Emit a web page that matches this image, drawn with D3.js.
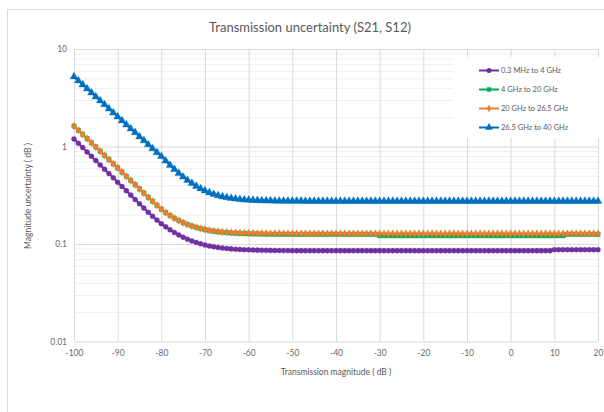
<!DOCTYPE html>
<meta charset="utf-8">
<style>
    body { margin: 0; background: #fff; }
    text { font-family: Lato, "Open Sans", sans-serif; fill: #595959; }
    .grid line { stroke: #d9d9d9; stroke-width: 1; }
    .grid.minor line { stroke: #efefef; }
    .grid .domain { display: none; }
    .axis .domain { display: none; }
    .axis text { font-size: 8.5px; fill: #6a6a6a; }
</style>
<body>
<svg id="chart"></svg>
<script src="https://d3js.org/d3.v7.min.js"></script>
<script>
    // x values: transmission magnitude in dB, one point per dB
    var magnitude = d3.range(-100, 21, 1);

    var xTicks = [-100, -90, -80, -70, -60, -50, -40, -30, -20, -10, 0, 10, 20];
    var yTicks = [0.01, 0.1, 1, 10];
    var yTickLabels = ["0.01", "0.1", "1", "10"];

    // 0.3 MHz to 4 GHz
    var band1 = [
        1.194, 1.078, 0.974, 0.879, 0.794, 0.717, 0.647, 0.585, 0.528, 0.477,
        0.4305, 0.389, 0.351, 0.317, 0.286, 0.2585, 0.2334, 0.2113, 0.1923, 0.1758,
        0.1614, 0.1499, 0.1399, 0.1313, 0.1238, 0.1175, 0.1121, 0.1075, 0.1037, 0.1004,
        0.0978, 0.0955, 0.0937, 0.0922, 0.0909, 0.0899, 0.0891, 0.0884, 0.0879, 0.0874,
        0.0871, 0.0868, 0.0865, 0.0863, 0.0861, 0.0860, 0.0859, 0.0858, 0.0857, 0.0856,
        0.0855, 0.0855, 0.0855, 0.0855, 0.0855, 0.0855, 0.0855, 0.0855, 0.0855, 0.0855,
        0.0855, 0.0855, 0.0855, 0.0855, 0.0855, 0.0855, 0.0855, 0.0855, 0.0855, 0.0855,
        0.0855, 0.0855, 0.0855, 0.0855, 0.0855, 0.0855, 0.0855, 0.0855, 0.0855, 0.0855,
        0.0855, 0.0855, 0.0855, 0.0855, 0.0855, 0.0855, 0.0855, 0.0855, 0.0855, 0.0855,
        0.0855, 0.0855, 0.0855, 0.0855, 0.0855, 0.0855, 0.0855, 0.0855, 0.0855, 0.0855,
        0.0855, 0.0855, 0.0855, 0.0855, 0.0855, 0.0855, 0.0855, 0.0855, 0.0855, 0.0855,
        0.0875, 0.0875, 0.0875, 0.0875, 0.0875, 0.0875, 0.0875, 0.0875, 0.0875, 0.0875,
        0.0875
    ];

    // 4 GHz to 20 GHz
    var band2 = [
        1.622, 1.469, 1.330, 1.205, 1.091, 0.989, 0.895, 0.811, 0.735, 0.665,
        0.603, 0.546, 0.494, 0.448, 0.406, 0.367, 0.333, 0.301, 0.274, 0.249,
        0.228, 0.210, 0.196, 0.184, 0.174, 0.1656, 0.1586, 0.1528, 0.1481, 0.1442,
        0.1400, 0.1372, 0.1350, 0.1333, 0.1318, 0.1307, 0.1297, 0.1289, 0.1283, 0.1278,
        0.1274, 0.1270, 0.1267, 0.1265, 0.1263, 0.1261, 0.1260, 0.1259, 0.1258, 0.1258,
        0.1258, 0.1258, 0.1258, 0.1258, 0.1258, 0.1258, 0.1258, 0.1258, 0.1258, 0.1258,
        0.1258, 0.1258, 0.1258, 0.1258, 0.1258, 0.1258, 0.1258, 0.1258, 0.1258, 0.1258,
        0.1215, 0.1215, 0.1215, 0.1215, 0.1215, 0.1215, 0.1215, 0.1215, 0.1215, 0.1215,
        0.1215, 0.1215, 0.1215, 0.1215, 0.1215, 0.1215, 0.1215, 0.1215, 0.1215, 0.1215,
        0.1215, 0.1215, 0.1215, 0.1215, 0.1215, 0.1215, 0.1215, 0.1215, 0.1215, 0.1215,
        0.1215, 0.1215, 0.1215, 0.1215, 0.1215, 0.1215, 0.1215, 0.1215, 0.1215, 0.1215,
        0.1215, 0.1215, 0.1215, 0.1258, 0.1258, 0.1258, 0.1258, 0.1258, 0.1258, 0.1258,
        0.1258
    ];

    // 20 GHz to 26.5 GHz
    var band3 = [
        1.622, 1.469, 1.330, 1.205, 1.091, 0.989, 0.895, 0.811, 0.735, 0.665,
        0.603, 0.546, 0.494, 0.448, 0.406, 0.367, 0.333, 0.301, 0.274, 0.249,
        0.228, 0.210, 0.196, 0.184, 0.174, 0.1656, 0.1586, 0.1528, 0.1481, 0.1442,
        0.1410, 0.1384, 0.1363, 0.1347, 0.1333, 0.1323, 0.1314, 0.1307, 0.1302, 0.1297,
        0.1294, 0.1291, 0.1289, 0.1287, 0.1286, 0.1285, 0.1284, 0.1283, 0.1282, 0.1281,
        0.128, 0.128, 0.128, 0.128, 0.128, 0.128, 0.128, 0.128, 0.128, 0.128,
        0.128, 0.128, 0.128, 0.128, 0.128, 0.128, 0.128, 0.128, 0.128, 0.128,
        0.128, 0.128, 0.128, 0.128, 0.128, 0.128, 0.128, 0.128, 0.128, 0.128,
        0.128, 0.128, 0.128, 0.128, 0.128, 0.128, 0.128, 0.128, 0.128, 0.128,
        0.128, 0.128, 0.128, 0.128, 0.128, 0.128, 0.128, 0.128, 0.128, 0.128,
        0.128, 0.128, 0.128, 0.128, 0.128, 0.128, 0.128, 0.128, 0.128, 0.128,
        0.128, 0.128, 0.128, 0.128, 0.128, 0.128, 0.128, 0.128, 0.128, 0.128,
        0.128
    ];

    // 26.5 GHz to 40 GHz
    var band4 = [
        5.20, 4.73, 4.31, 3.92, 3.56, 3.24, 2.95, 2.69, 2.44, 2.22,
        2.02, 1.84, 1.67, 1.52, 1.39, 1.26, 1.15, 1.045, 0.951, 0.867,
        0.792, 0.712, 0.643, 0.583, 0.531, 0.488, 0.450, 0.419, 0.392, 0.3696,
        0.3513, 0.3363, 0.3240, 0.3140, 0.3060, 0.2995, 0.2943, 0.2903, 0.2870, 0.2845,
        0.2824, 0.2808, 0.2796, 0.2786, 0.2778, 0.2772, 0.2767, 0.2763, 0.2760, 0.2758,
        0.2757, 0.2756, 0.2755, 0.275, 0.275, 0.275, 0.275, 0.275, 0.275, 0.275,
        0.275, 0.275, 0.275, 0.275, 0.275, 0.275, 0.275, 0.275, 0.275, 0.275,
        0.275, 0.275, 0.275, 0.275, 0.275, 0.275, 0.275, 0.275, 0.275, 0.275,
        0.275, 0.275, 0.275, 0.275, 0.275, 0.275, 0.275, 0.275, 0.275, 0.275,
        0.275, 0.275, 0.275, 0.275, 0.275, 0.275, 0.275, 0.275, 0.275, 0.275,
        0.275, 0.275, 0.275, 0.275, 0.275, 0.275, 0.275, 0.275, 0.275, 0.275,
        0.275, 0.275, 0.275, 0.275, 0.275, 0.275, 0.275, 0.275, 0.275, 0.275,
        0.275
    ];

    var seriesNames = ["0.3 MHz to 4 GHz", "4 GHz to 20 GHz", "20 GHz to 26.5 GHz", "26.5 GHz to 40 GHz"];
    var seriesColors = ["#7030a0", "#00b050", "#ed7d31", "#0070c0"];
    var seriesSymbols = [d3.symbolCircle, d3.symbolSquare, d3.symbolDiamond, d3.symbolTriangle];
    var seriesSizes = [20, 20, 17, 26];
    var seriesValues = [band1, band2, band3, band4];

    var width = 604, height = 412;

    var svg = d3.select("#chart")
        .attr("width", width)
        .attr("height", height);

    // chart area border
    svg.append("rect")
        .attr("x", 7.5).attr("y", 9.5)
        .attr("width", 605).attr("height", 420)
        .attr("fill", "#fff")
        .attr("stroke", "#d9d9d9");

    svg.append("text")
        .attr("x", 310).attr("y", 32)
        .attr("text-anchor", "middle")
        .style("font-size", "13px")
        .text("Transmission uncertainty (S21, S12)");

    var x = d3.scaleLinear().domain([-100, 20]).range([74, 598]);
    var y = d3.scaleLog().domain([0.01, 10]).range([341.5, 49]);

    // minor horizontal gridlines
    var minorTicks = y.ticks().filter(function (v) { return yTicks.indexOf(v) < 0; });
    svg.append("g")
        .attr("class", "grid minor")
        .attr("transform", "translate(74,0)")
        .call(d3.axisLeft(y).tickValues(minorTicks).tickSize(-524).tickFormat(""));

    svg.append("g")
        .attr("class", "grid")
        .attr("transform", "translate(74,0)")
        .call(d3.axisLeft(y).tickValues(yTicks).tickSize(-524).tickFormat(""));

    svg.append("g")
        .attr("class", "grid")
        .attr("transform", "translate(0,341.5)")
        .call(d3.axisBottom(x).tickValues(xTicks).tickSize(-292.5).tickFormat(""));

    // axis labels
    svg.append("g")
        .attr("class", "axis")
        .attr("transform", "translate(67,0)")
        .call(d3.axisLeft(y).tickValues(yTicks).tickSize(0).tickPadding(0)
            .tickFormat(function (d, i) { return yTickLabels[i]; }));

    svg.append("g")
        .attr("class", "axis")
        .attr("transform", "translate(0,346)")
        .call(d3.axisBottom(x).tickValues(xTicks).tickSize(0).tickPadding(4)
            .tickFormat(function (d) { return String(d); }));

    svg.append("text")
        .attr("x", 336).attr("y", 375)
        .attr("text-anchor", "middle")
        .style("font-size", "8.5px")
        .text("Transmission magnitude ( dB )");

    svg.append("text")
        .attr("transform", "translate(31,196) rotate(-90)")
        .attr("text-anchor", "middle")
        .style("font-size", "8.5px")
        .text("Magnitude uncertainty ( dB )");

    var line = d3.line()
        .x(function (d) { return x(d[0]); })
        .y(function (d) { return y(d[1]); });

    seriesValues.forEach(function (vals, s) {
        var pts = magnitude.map(function (m, i) { return [m, vals[i]]; });
        var g = svg.append("g");
        g.append("path")
            .datum(pts)
            .attr("d", line)
            .attr("fill", "none")
            .attr("stroke", seriesColors[s])
            .attr("stroke-width", 2);
        g.selectAll("path.mark")
            .data(pts)
            .enter().append("path")
            .attr("class", "mark")
            .attr("transform", function (d) { return "translate(" + x(d[0]) + "," + y(d[1]) + ")"; })
            .attr("d", d3.symbol().type(seriesSymbols[s]).size(seriesSizes[s]))
            .attr("fill", seriesColors[s])
            .attr("stroke", seriesColors[s])
            .attr("stroke-opacity", 0.35)
            .attr("stroke-width", 1);
    });

    // legend
    var legend = svg.append("g");
    legend.append("rect")
        .attr("x", 453).attr("y", 57)
        .attr("width", 147).attr("height", 81)
        .attr("fill", "#fff");

    var legendY = d3.scalePoint().domain(d3.range(4)).range([70.5, 127.5]);
    seriesNames.forEach(function (name, s) {
        var ly = legendY(s);
        legend.append("line")
            .attr("x1", 479).attr("x2", 499)
            .attr("y1", ly).attr("y2", ly)
            .attr("stroke", seriesColors[s])
            .attr("stroke-width", 2);
        legend.append("path")
            .attr("transform", "translate(489," + ly + ")")
            .attr("d", d3.symbol().type(seriesSymbols[s]).size(seriesSizes[s]))
            .attr("fill", seriesColors[s]);
        legend.append("text")
            .attr("x", 501).attr("y", ly)
            .attr("dy", "0.35em")
            .style("font-size", "7.5px")
            .text(name);
    });
</script>
</body>
